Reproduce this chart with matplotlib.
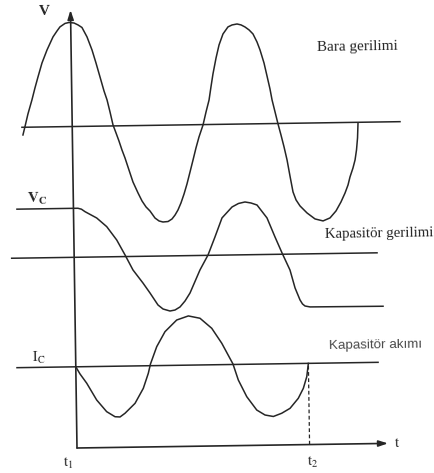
import matplotlib
matplotlib.use('Agg')
import matplotlib.pyplot as plt
import numpy as np
from matplotlib.transforms import Affine2D

plt.rcParams['mathtext.fontset'] = 'stix'

# bus voltage (Bara gerilimi): time from switching instant t1, value above its zero line
bus_t = [-49.4, -47.2, -44.1, -39.9, -36.7, -33.5, -29.3, -24.1, -17.9, -13.8,
         -10.8, -5.7, -1.7, 3.3, 7.3, 11.2, 16.1, 20.9, 24.7, 28.5,
         32.3, 35.2, 38.0, 40.8, 43.7, 46.5, 49.4, 52.3, 56.1, 59.9,
         64.8, 68.7, 72.6, 76.5, 81.4, 85.4, 89.3, 94.4, 98.4, 101.5,
         104.5, 107.6, 110.8, 113.9, 117.1, 120.3, 123.4, 126.6, 130.8, 134.0,
         137.2, 139.3, 141.5, 144.8, 148.0, 152.1, 157.2, 161.3, 166.3, 170.3,
         174.2, 178.2, 182.1, 186.0, 188.9, 192.7, 195.5, 198.3, 200.2, 203.0,
         205.8, 208.6, 211.5, 214.3, 217.0, 219.8, 222.7, 226.6, 233.5, 241.4,
         249.4, 256.4, 262.5, 267.6, 271.8, 274.9, 277.0, 280.1, 282.3, 283.9,
         285.1, 285.8]
bus_v = [-7.7, 0.8, 13.2, 27.2, 39.1, 50.1, 64.0, 76.9, 89.9, 95.8,
         99.8, 103.2, 104.1, 103.5, 101.5, 98.9, 89.4, 76.3, 63.2, 49.2,
         35.1, 26.1, 14.0, 1.0, -7.1, -15.1, -24.2, -32.2, -44.3, -56.3,
         -67.4, -75.5, -81.5, -85.6, -92.7, -95.7, -96.8, -96.4, -93.9, -90.0,
         -85.0, -78.0, -69.1, -59.1, -47.2, -35.2, -23.3, -12.3, -0.4, 12.6,
         24.5, 37.5, 50.5, 66.4, 79.4, 90.3, 97.3, 99.2, 100.1, 99.1,
         97.0, 94.0, 89.9, 81.8, 73.8, 60.7, 47.7, 34.6, 23.6, 11.6,
         -0.5, -11.5, -23.6, -36.6, -52.7, -68.7, -76.7, -82.8, -89.9, -96.0,
         -98.1, -95.2, -88.3, -79.4, -70.5, -62.5, -54.5, -45.6, -37.6, -27.6,
         -15.6, -0.7]

# capacitor voltage (Kapasitör gerilimi)
cap_v_t = [-56.5, 4.5, 8.0, 11.5, 23.1, 33.0, 42.8, 50.9, 58.6, 68.4,
           75.3, 83.1, 88.1, 95.0, 100.0, 105.1, 110.2, 115.3, 125.6, 133.9,
           141.1, 148.4, 158.6, 165.1, 171.6, 177.6, 183.6, 193.4, 201.1, 207.9,
           215.6, 220.4, 225.2, 227.6, 230.1, 235.1, 308.1]
cap_v = [49.0, 49.0, 48.0, 45.5, 39.0, 30.2, 16.7, 1.6, -13.5, -26.7,
         -36.8, -48.9, -53.0, -55.1, -54.2, -51.2, -45.3, -37.4, -14.5, 0.4,
         18.3, 37.2, 48.0, 51.4, 52.8, 51.7, 49.6, 36.5, 17.4, 1.3,
         -15.9, -33.9, -46.0, -50.0, -52.1, -53.1, -53.5]

# capacitor current (Kapasitör akımı), flows only between t1 and t2
cap_i_t = [0.0, 4.1, 10.7, 20.4, 30.2, 38.5, 43.5, 48.5, 58.7, 67.2,
           72.4, 74.7, 81.2, 89.7, 101.6, 113.3, 124.9, 136.5, 146.3, 157.2,
           162.3, 170.5, 180.3, 188.5, 196.8, 205.2, 213.6, 222.0, 227.2, 230.8,
           232.6]
cap_i = [0.0, -7.2, -16.6, -33.5, -45.3, -50.5, -50.8, -47.2, -37.4, -22.5,
         -7.6, 1.7, 18.9, 33.8, 45.3, 49.2, 46.7, 36.5, 21.4, 0.5,
         -15.6, -32.4, -45.9, -51.0, -52.6, -49.5, -44.7, -34.8, -24.9, -13.3,
         0.0]

t1, t2 = 0.0, 232.6

# where each trace's zero line sits on the page, and how far it runs
bus_level, cap_v_level, cap_i_level = 321.5, 190.7, 81.2
bus_span = (-50.3, 327.8)
cap_v_span = (-62.5, 302.9)
cap_i_span = (-58.8, 302.3)
t_axis_end, v_axis_end = 311.0, 438.0

ink = '#262626'
serif = 'Liberation Serif'

fig = plt.figure(figsize=(4.34, 4.73), dpi=100)
ax = fig.add_axes([0, 0, 1, 1])
ax.set_xlim(-77, 357)
ax.set_ylim(-25, 448)
ax.axis('off')

# the printed page sits slightly turned
tilt = 0.85
page = Affine2D().rotate_deg(tilt) + ax.transData

# axes with arrow heads
arrow = dict(arrowstyle='-|>,head_length=0.55,head_width=0.18', color=ink,
             lw=1.2, shrinkA=0, shrinkB=0, mutation_scale=10)
ax.annotate('', xy=(t1, v_axis_end), xytext=(t1, 0), xycoords=page,
            textcoords=page, arrowprops=arrow)
ax.annotate('', xy=(t_axis_end, 0), xytext=(t1, 0), xycoords=page,
            textcoords=page, arrowprops=arrow)

# zero lines
for level, span in [(bus_level, bus_span), (cap_v_level, cap_v_span),
                    (cap_i_level, cap_i_span)]:
    ax.plot(span, [level, level], color=ink, lw=1.1, transform=page)

# waveforms
ax.plot(bus_t, np.array(bus_v) + bus_level, color=ink, lw=1.1, transform=page)
ax.plot(cap_v_t, np.array(cap_v) + cap_v_level, color=ink, lw=1.1, transform=page)
ax.plot(cap_i_t, np.array(cap_i) + cap_i_level, color=ink, lw=1.1, transform=page)

# t2 marker
ax.plot([t2, t2], [0, cap_i_level], color=ink, lw=0.9, dashes=(3, 2),
        transform=page)

txt = dict(transform=page, rotation=tilt, rotation_mode='anchor', color=ink)
ax.text(-26.6, 433.5, 'V', ha='center', va='baseline', fontsize=11,
        family=serif, weight='bold', **txt)
ax.text(-46.7, 245.7, r'$\mathbf{V_C}$', ha='left', va='baseline', fontsize=11, **txt)
ax.text(-44.0, 86.7, r'$\mathrm{I_C}$', ha='left', va='baseline', fontsize=10.5, **txt)
ax.text(320.5, -3.7, r'$\mathrm{t}$', ha='center', va='baseline', fontsize=11, **txt)
ax.text(-14.3, -18.8, r'$\mathrm{t_1}$', ha='left', va='baseline', fontsize=11, **txt)
ax.text(229.4, -21.4, r'$\mathrm{t_2}$', ha='left', va='baseline', fontsize=11, **txt)

ax.text(285.9, 393.1, 'Bara gerilimi', ha='center', va='baseline',
        fontsize=11, family=serif, **txt)
ax.text(251.1, 206.0, 'Kapasitör gerilimi', ha='left', va='baseline',
        fontsize=10.7, family=serif, **txt)
ax.text(300.0, 95.6, 'Kapasitör akımı', ha='center', va='baseline',
        fontsize=9.6, family='Liberation Sans', transform=page, rotation=tilt,
        rotation_mode='anchor', color='#4a4a4a')

fig.savefig('out.png', dpi=100)
